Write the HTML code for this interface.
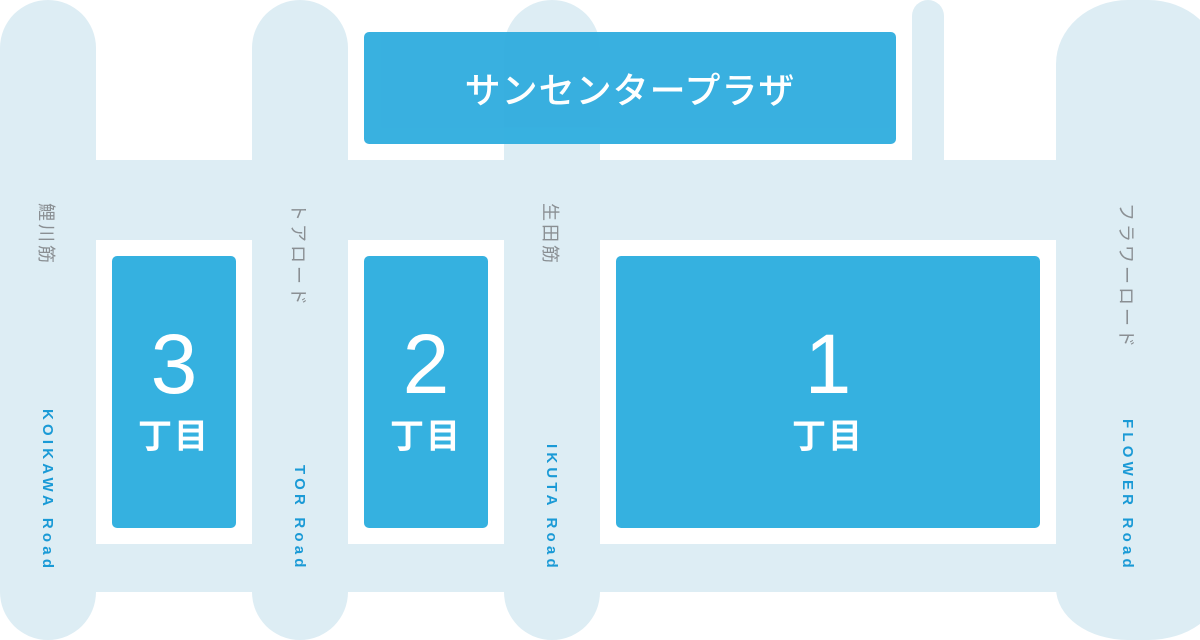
<!DOCTYPE html>
<html><head><meta charset="utf-8"><style>
*{margin:0;padding:0;box-sizing:border-box}
body{width:1200px;height:640px;background:#fff;position:relative;overflow:hidden;font-family:"Liberation Sans","Noto Sans CJK JP",sans-serif}
.r{position:absolute;background:#ddedf4}
.b{position:absolute;background:#35b1e0;border-radius:5px;color:#fff;text-align:center}
.jp{position:absolute;writing-mode:vertical-rl;text-orientation:sideways;color:#8a8f93;font-family:"Noto Sans CJK JP",sans-serif;font-size:18px;letter-spacing:3px;top:203px;width:22px;line-height:22px;white-space:nowrap}
.en{position:absolute;writing-mode:vertical-rl;color:#1a9ad6;font-size:15px;font-weight:bold;letter-spacing:4.2px;bottom:68px;width:20px;line-height:20px;white-space:nowrap}
.num{position:absolute;left:0;right:0;top:63px;font-size:84px;line-height:90px;font-family:"Liberation Sans",sans-serif}
.cho{position:absolute;left:0;right:0;top:158px;font-size:34px;font-weight:bold;line-height:40px;font-family:"Noto Sans CJK JP",sans-serif;letter-spacing:2px}
</style></head><body>
<div class="r" style="left:0;top:160px;width:1200px;height:80px"></div>
<div class="r" style="left:0;top:544px;width:1200px;height:48px"></div>
<div class="r" style="left:0;top:0;width:96px;height:640px;border-radius:48px"></div>
<div class="r" style="left:252px;top:0;width:96px;height:640px;border-radius:48px"></div>
<div class="r" style="left:504px;top:0;width:96px;height:640px;border-radius:48px"></div>
<div class="r" style="left:912px;top:0;width:32px;height:200px;border-radius:16px"></div>
<div class="r" style="left:1056px;top:0;width:164px;height:640px;border-radius:72px 72px 72px 72px / 64px 64px 52px 52px"></div>

<div class="b" style="left:364px;top:32px;width:532px;height:112px;background:#33aedf;opacity:0.97;font-family:'Noto Sans CJK JP',sans-serif;font-weight:500;font-size:36px;line-height:112px;letter-spacing:1px">サンセンタープラザ</div>

<div class="b" style="left:112px;top:256px;width:124px;height:272px"><div class="num">3</div><div class="cho">丁目</div></div>
<div class="b" style="left:364px;top:256px;width:124px;height:272px"><div class="num">2</div><div class="cho">丁目</div></div>
<div class="b" style="left:616px;top:256px;width:424px;height:272px"><div class="num">1</div><div class="cho">丁目</div></div>

<div class="jp" style="left:36px">鯉川筋</div>
<div class="jp" style="left:288px">トアロード</div>
<div class="jp" style="left:540px">生田筋</div>
<div class="jp" style="left:1116px">フラワーロード</div>

<div class="en" style="left:37px">KOIKAWA Road</div>
<div class="en" style="left:289px">TOR Road</div>
<div class="en" style="left:541px">IKUTA Road</div>
<div class="en" style="left:1117px">FLOWER Road</div>
</body></html>
